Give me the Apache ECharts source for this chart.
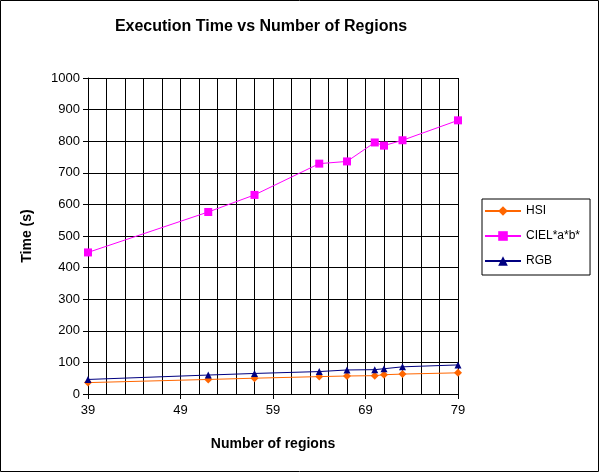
<!DOCTYPE html>
<html>
<head>
<meta charset="utf-8">
<script src="https://cdn.jsdelivr.net/npm/echarts@6/dist/echarts.min.js"></script>
<style>
html,body{margin:0;padding:0;background:#fff;}
#c{width:600px;height:473px;}
</style>
</head>
<body>
<div id="c"></div>
<script>
// Data
const regions = [39, 52, 57, 64, 67, 70, 71, 73, 79];
const hsi  = [36, 46, 50, 55, 57, 58, 61, 63, 67];
const ciel = [448, 576, 630, 729, 736, 796, 786, 803, 866];
const rgb  = [46, 60, 65, 71, 76, 77, 80, 86, 92];
const xMin = 39, xMax = 79;
const xTickLabels = ['39', '49', '59', '69', '79'];
const yTickLabels = [0, 100, 200, 300, 400, 500, 600, 700, 800, 900, 1000];

// category axis covering each integer number of regions
const categories = [];
for (let v = xMin; v <= xMax; v++) categories.push(String(v));

function pairs(vals) { return regions.map((r, i) => [String(r), vals[i]]); }

const font = 'Liberation Sans, Arial, sans-serif';
const chart = echarts.init(document.getElementById('c'), null, {renderer: 'canvas'});
chart.setOption({
  animation: false,
  backgroundColor: '#fff',
  textStyle: {fontFamily: font},
  graphic: [
    {type: 'rect', shape: {x: 0.5, y: 0.5, width: 598, height: 471}, style: {fill: 'none', stroke: '#000', lineWidth: 1}, silent: true},
    {type: 'text', x: 261, y: 27, style: {text: 'Execution Time vs Number of Regions', font: 'bold 16px ' + font, fill: '#000', align: 'center', verticalAlign: 'middle'}}
  ],
  grid: {left: 88, right: 142, top: 78, bottom: 79, containLabel: false},
  legend: {
    orient: 'vertical', left: 482, top: 199,
    width: 111,
    padding: [6, 10, 8, 2],
    itemGap: 13, itemWidth: 36, itemHeight: 12,
    borderColor: '#000', borderWidth: 1,
    textStyle: {fontSize: 12, color: '#000', fontFamily: font},
    data: ['HSI', 'CIEL*a*b*', 'RGB']
  },
  xAxis: {
    type: 'category',
    data: categories,
    boundaryGap: false,
    name: 'Number of regions',
    nameLocation: 'middle',
    nameGap: 43,
    nameTextStyle: {fontWeight: 'bold', fontSize: 14, color: '#000'},
    axisLine: {lineStyle: {color: '#000', width: 1}},
    axisTick: {show: true, length: 5, interval: (i, v) => xTickLabels.indexOf(v) >= 0, lineStyle: {color: '#000'}},
    axisLabel: {interval: (i, v) => xTickLabels.indexOf(v) >= 0, fontSize: 13, color: '#000', margin: 10},
    splitLine: {show: true, interval: (i) => i % 2 === 0, lineStyle: {color: '#000', width: 1}}
  },
  yAxis: {
    type: 'value',
    min: yTickLabels[0], max: yTickLabels[yTickLabels.length - 1], interval: 100,
    name: 'Time (s)',
    nameLocation: 'middle',
    nameGap: 54,
    nameTextStyle: {fontWeight: 'bold', fontSize: 14, color: '#000'},
    axisLine: {show: true, lineStyle: {color: '#000', width: 1}},
    axisTick: {show: true, length: 5, lineStyle: {color: '#000'}},
    axisLabel: {fontSize: 13, color: '#000', margin: 8, formatter: (v) => String(v)},
    splitLine: {show: true, lineStyle: {color: '#000', width: 1}}
  },
  series: [
    {name: 'HSI', type: 'line', data: pairs(hsi), symbol: 'diamond', symbolSize: 8, showAllSymbol: true,
     itemStyle: {color: '#FF6600'}, lineStyle: {color: '#FF6600', width: 1}},
    {name: 'CIEL*a*b*', type: 'line', data: pairs(ciel), symbol: 'rect', symbolSize: 8, showAllSymbol: true,
     itemStyle: {color: '#FF00FF'}, lineStyle: {color: '#FF00FF', width: 1}},
    {name: 'RGB', type: 'line', data: pairs(rgb), symbol: 'triangle', symbolSize: 7, showAllSymbol: true,
     itemStyle: {color: '#000080'}, lineStyle: {color: '#000080', width: 1}}
  ]
});
</script>
</body>
</html>
